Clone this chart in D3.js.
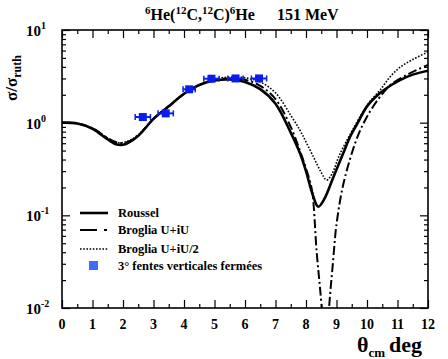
<!DOCTYPE html>
<html>
<head>
<meta charset="utf-8">
<script src="https://cdn.jsdelivr.net/npm/d3@7"></script>
<style>
  body { margin: 0; background: #fff; }
  svg text { font-family: "Liberation Serif", "DejaVu Serif", serif; font-weight: bold; fill: #000; }
</style>
</head>
<body>
<div id="chart"></div>
<script>
// angles (deg) and sigma/sigma_ruth for each model
var rousselTheta = [0, 0.5, 1.0, 1.5, 1.8, 2.1, 2.5, 3.0, 3.5, 4.0, 4.5, 5.0, 5.5, 6.0, 6.5, 7.0, 7.5, 7.8, 8.0, 8.2, 8.4, 8.6, 8.9, 9.2, 9.45, 9.7, 10.0, 10.4, 10.8, 11.1, 11.5, 12];
var rousselVal   = [1.0, 0.98, 0.86, 0.66, 0.58, 0.59, 0.72, 1.1, 1.5, 2.05, 2.55, 2.85, 2.92, 2.75, 2.3, 1.6, 0.78, 0.47, 0.3, 0.175, 0.124, 0.15, 0.26, 0.45, 0.71, 1.0, 1.5, 2.05, 2.55, 2.9, 3.3, 3.64];

var brogliaTheta = [0, 0.5, 1.0, 1.5, 1.8, 2.1, 2.5, 3.0, 3.5, 4.0, 4.5, 5.0, 5.5, 6.0, 6.5, 7.0, 7.5, 7.8, 8.0, 8.19, 8.35, 8.51, 8.63, 8.76, 8.88, 9.0, 9.2, 9.44, 9.7, 10.0, 10.4, 10.8, 11.4, 12];
var brogliaVal   = [1.0, 0.98, 0.87, 0.68, 0.61, 0.61, 0.73, 1.1, 1.5, 2.05, 2.55, 2.9, 3.0, 2.9, 2.5, 1.8, 0.9, 0.5, 0.32, 0.19, 0.04, 0.0104, 0.002, 0.0104, 0.03, 0.08, 0.2, 0.4, 0.72, 1.16, 1.85, 2.6, 3.4, 4.2];

var broglia2Theta = [0, 0.5, 1.0, 1.5, 1.8, 2.1, 2.5, 3.0, 3.5, 4.0, 4.5, 5.0, 5.5, 6.0, 6.5, 7.0, 7.5, 7.8, 8.0, 8.24, 8.5, 8.68, 8.85, 9.1, 9.45, 9.8, 10.1, 10.43, 10.75, 11.1, 11.5, 12];
var broglia2Val   = [1.0, 0.98, 0.87, 0.68, 0.61, 0.62, 0.74, 1.1, 1.5, 2.05, 2.55, 2.95, 3.1, 3.05, 2.75, 2.1, 1.2, 0.83, 0.62, 0.43, 0.29, 0.24, 0.28, 0.45, 0.75, 1.2, 1.7, 2.25, 3.1, 4.0, 4.8, 5.8];

// measured points (3 deg slits)
var dataTheta = [2.65, 3.4, 4.17, 4.9, 5.69, 6.46];
var dataVal   = [1.15, 1.26, 2.29, 2.98, 3.0, 3.0];
var dataErrX  = [0.25, 0.25, 0.2, 0.25, 0.25, 0.25];

var xTicks = [0, 1, 2, 3, 4, 5, 6, 7, 8, 9, 10, 11, 12];
var yTicks = [0.01, 0.1, 1, 10];
var yExp   = ["-2", "-1", "0", "1"];

var legendLabels = ["Roussel", "Broglia U+iU", "Broglia U+iU/2", "3\u00b0 fentes verticales ferm\u00e9es"];

var W = 448, H = 359;
var margin = { top: 30, right: 20, bottom: 51, left: 62 };
var width = W - margin.left - margin.right,
    height = H - margin.top - margin.bottom;

var svg = d3.select("#chart").append("svg")
    .attr("width", W)
    .attr("height", H);

var g = svg.append("g")
    .attr("transform", "translate(" + margin.left + "," + margin.top + ")");

var x = d3.scaleLinear().domain([0, 12]).range([0, width]);
var y = d3.scaleLog().domain([0.01, 10]).range([height, 0]);

svg.append("defs").append("clipPath").attr("id", "clip")
  .append("rect").attr("width", width).attr("height", height);

// minor ticks
var xMinor = d3.range(0.5, 12, 1);
var yMinor = [];
[0.01, 0.1, 1].forEach(function(d) {
    for (var k = 2; k <= 9; k++) yMinor.push(d * k);
});

function styleAxis(sel) {
    sel.select(".domain").remove();
    sel.selectAll("line").attr("stroke", "#000").attr("stroke-width", 1.2);
}

g.append("g").attr("transform", "translate(0," + height + ")")
    .call(d3.axisBottom(x).tickValues(xTicks).tickSize(-8).tickFormat(""))
    .call(styleAxis);
g.append("g").attr("transform", "translate(0," + height + ")")
    .call(d3.axisBottom(x).tickValues(xMinor).tickSize(-4).tickFormat(""))
    .call(styleAxis);
g.append("g")
    .call(d3.axisTop(x).tickValues(xTicks).tickSize(-8).tickFormat(""))
    .call(styleAxis);
g.append("g")
    .call(d3.axisTop(x).tickValues(xMinor).tickSize(-4).tickFormat(""))
    .call(styleAxis);
g.append("g")
    .call(d3.axisLeft(y).tickValues(yTicks).tickSize(-8).tickFormat(""))
    .call(styleAxis);
g.append("g")
    .call(d3.axisLeft(y).tickValues(yMinor).tickSize(-4).tickFormat(""))
    .call(styleAxis);
g.append("g").attr("transform", "translate(" + width + ",0)")
    .call(d3.axisRight(y).tickValues(yTicks).tickSize(-8).tickFormat(""))
    .call(styleAxis);
g.append("g").attr("transform", "translate(" + width + ",0)")
    .call(d3.axisRight(y).tickValues(yMinor).tickSize(-4).tickFormat(""))
    .call(styleAxis);

// frame
g.append("rect")
    .attr("width", width).attr("height", height)
    .attr("fill", "none").attr("stroke", "#000").attr("stroke-width", 1.6);

// x tick labels
g.selectAll(".xlab").data(xTicks).enter().append("text")
    .attr("class", "xlab")
    .attr("x", function(d) { return x(d); })
    .attr("y", height + 21)
    .attr("text-anchor", "middle")
    .style("font-size", "14px")
    .text(function(d) { return d; });

// y tick labels 10^n
var ylab = g.selectAll(".ylab").data(yTicks).enter().append("text")
    .attr("class", "ylab")
    .attr("x", -36)
    .attr("y", function(d) { return y(d) + 6; })
    .style("font-size", "15px");
ylab.append("tspan").text("10");
ylab.append("tspan").attr("dy", -7).style("font-size", "10px")
    .text(function(d, i) { return yExp[i]; });

// curves
var line = d3.line()
    .curve(d3.curveCatmullRom)
    .x(function(d) { return x(d[0]); })
    .y(function(d) { return y(d[1]); });

var curves = g.append("g").attr("clip-path", "url(#clip)");

function zip(a, b) { return a.map(function(t, i) { return [t, b[i]]; }); }

curves.append("path")
    .datum(zip(broglia2Theta, broglia2Val))
    .attr("fill", "none").attr("stroke", "#000")
    .attr("stroke-width", 1.6).attr("stroke-dasharray", "1.6,1.6")
    .attr("d", line);

curves.append("path")
    .datum(zip(brogliaTheta, brogliaVal))
    .attr("fill", "none").attr("stroke", "#000")
    .attr("stroke-width", 2).attr("stroke-dasharray", "9,3,2,3")
    .attr("d", line);

curves.append("path")
    .datum(zip(rousselTheta, rousselVal))
    .attr("fill", "none").attr("stroke", "#000")
    .attr("stroke-width", 2.6)
    .attr("d", line);

// data points
var pts = g.selectAll(".pt").data(zip(dataTheta, dataVal)).enter().append("g")
    .attr("class", "pt");
pts.append("line")
    .attr("x1", function(d, i) { return x(d[0] - dataErrX[i]); })
    .attr("x2", function(d, i) { return x(d[0] + dataErrX[i]); })
    .attr("y1", function(d) { return y(d[1]); })
    .attr("y2", function(d) { return y(d[1]); })
    .attr("stroke", "#0a1cf0").attr("stroke-width", 2);
pts.selectAll(".cap").data(function(d, i) { return [[d[0] - dataErrX[i], d[1]], [d[0] + dataErrX[i], d[1]]]; })
    .enter().append("line")
    .attr("x1", function(d) { return x(d[0]); })
    .attr("x2", function(d) { return x(d[0]); })
    .attr("y1", function(d) { return y(d[1]) - 3; })
    .attr("y2", function(d) { return y(d[1]) + 3; })
    .attr("stroke", "#0a1cf0").attr("stroke-width", 1.5);
pts.append("rect")
    .attr("x", function(d) { return x(d[0]) - 4; })
    .attr("y", function(d) { return y(d[1]) - 4; })
    .attr("width", 8).attr("height", 8)
    .attr("fill", "#0a1cf0");

// legend
var legY = [183, 200, 219, 236];
var legend = g.append("g");
legend.append("line").attr("x1", 18).attr("x2", 46).attr("y1", legY[0]).attr("y2", legY[0])
    .attr("stroke", "#000").attr("stroke-width", 2.6);
legend.append("line").attr("x1", 18).attr("x2", 46).attr("y1", legY[1]).attr("y2", legY[1])
    .attr("stroke", "#000").attr("stroke-width", 2).attr("stroke-dasharray", "17,7,3,30");
legend.append("line").attr("x1", 18).attr("x2", 46).attr("y1", legY[2]).attr("y2", legY[2])
    .attr("stroke", "#000").attr("stroke-width", 1.6).attr("stroke-dasharray", "1.6,1.6");
legend.append("rect").attr("x", 27).attr("y", legY[3] - 5).attr("width", 9).attr("height", 9)
    .attr("fill", "#3e6cf2");
legend.selectAll("text").data(legendLabels).enter().append("text")
    .attr("x", 56)
    .attr("y", function(d, i) { return legY[i] + 4; })
    .style("font-size", "12.5px")
    .text(function(d) { return d; });

// title
var title = svg.append("text")
    .attr("x", 145).attr("y", 20)
    .style("font-size", "16px");
title.append("tspan").attr("dy", -6).style("font-size", "11px").text("6");
title.append("tspan").attr("dy", 6).text("He(");
title.append("tspan").attr("dy", -6).style("font-size", "11px").text("12");
title.append("tspan").attr("dy", 6).text("C,");
title.append("tspan").attr("dy", -6).style("font-size", "11px").text("12");
title.append("tspan").attr("dy", 6).text("C)");
title.append("tspan").attr("dy", -6).style("font-size", "11px").text("6");
title.append("tspan").attr("dy", 6).text("He");
title.append("tspan").attr("dx", 22).text("151 MeV");

// y axis title
var yt = svg.append("text")
    .attr("transform", "translate(17,101) rotate(-90)")
    .style("font-size", "17px");
yt.append("tspan").text("\u03c3/\u03c3");
yt.append("tspan").attr("dy", 4).style("font-size", "12px").text("ruth");

// x axis title
var xt = svg.append("text")
    .attr("x", 357).attr("y", 352)
    .style("font-size", "22px");
xt.append("tspan").text("\u03b8");
xt.append("tspan").attr("dy", 5).style("font-size", "13px").text("cm");
xt.append("tspan").attr("dy", -5).attr("dx", 4).text("deg");
</script>
</body>
</html>
